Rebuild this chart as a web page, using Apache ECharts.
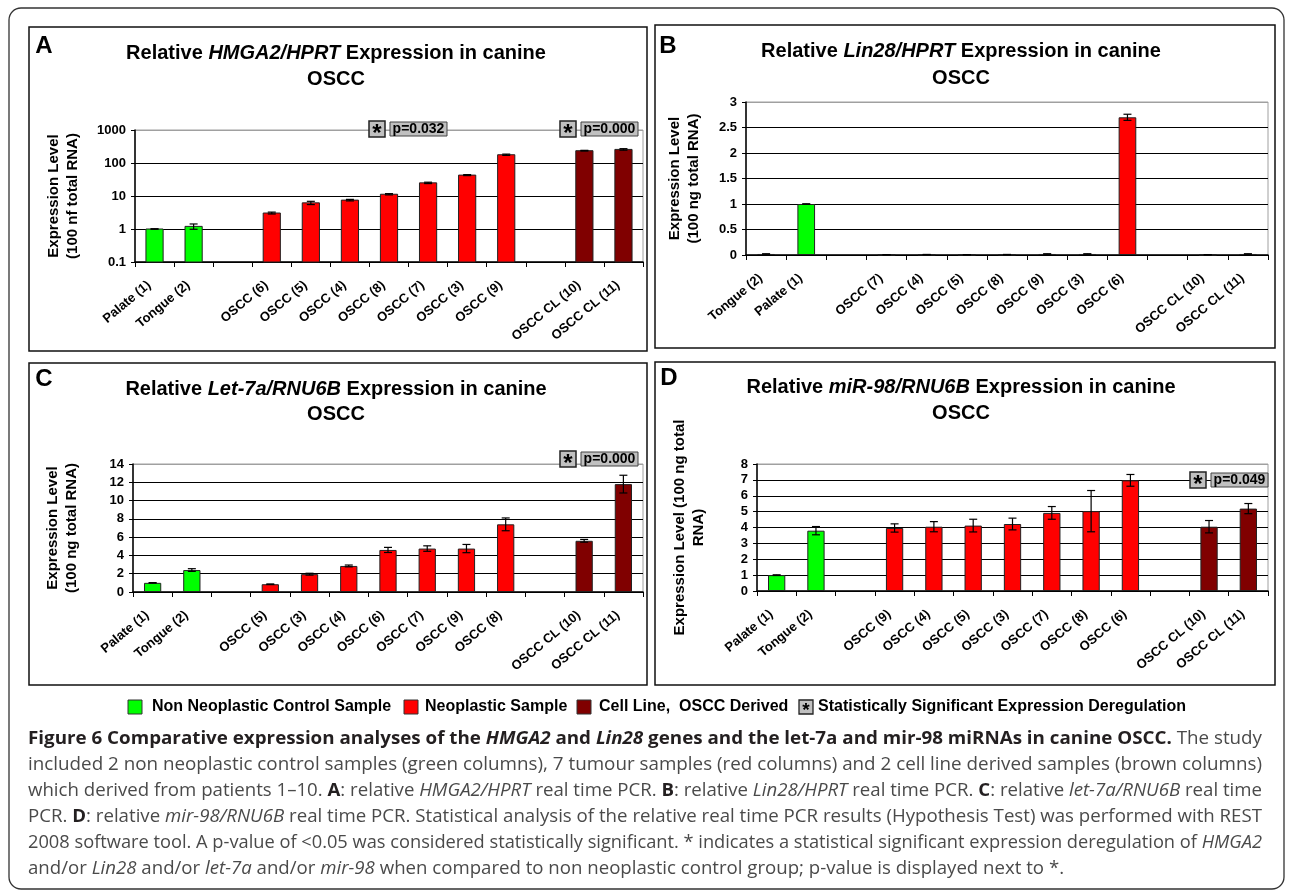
<!DOCTYPE html>
<html><head><meta charset="utf-8">
<script src="https://cdn.jsdelivr.net/npm/echarts@6/dist/echarts.min.js"></script>
<style>html,body{margin:0;padding:0;background:#fff}#c{width:1290px;height:895px}</style>
</head><body><div id="c"></div>
<script>
// ---------- DATA ----------
const catsA = ['Palate (1)','Tongue (2)',' ','OSCC (6)','OSCC (5)','OSCC (4)','OSCC (8)','OSCC (7)','OSCC (3)','OSCC (9)','  ','OSCC CL (10)','OSCC CL (11)'];
const valsA = [1.0,1.2,null,3.05,6.2,7.5,11.3,25,43,178,null,236,258];
const errA  = [0.02,0.22,null,0.2,0.7,0.4,0.5,1.2,1.5,8,null,6,14];
const ticksA = ['0.1','1','10','100','1000'];

const catsB = ['Tongue (2)','Palate (1)',' ','OSCC (7)','OSCC (4)','OSCC (5)','OSCC (8)','OSCC (9)','OSCC (3)','OSCC (6)','  ','OSCC CL (10)','OSCC CL (11)'];
const valsB = [0.02,1.0,null,0.004,0.008,0.004,0.008,0.02,0.02,2.7,null,0.004,0.02];
const errB  = [0.003,0.004,null,0.003,0.003,0.003,0.003,0.003,0.003,0.06,null,0.003,0.003];
const ticksB = ['0','0.5','1','1.5','2','2.5','3'];

const catsC = ['Palate (1)','Tongue (2)',' ','OSCC (5)','OSCC (3)','OSCC (4)','OSCC (6)','OSCC (7)','OSCC (9)','OSCC (8)','  ','OSCC CL (10)','OSCC CL (11)'];
const valsC = [1.0,2.4,null,0.85,1.95,2.85,4.6,4.75,4.75,7.4,null,5.6,11.8];
const errC  = [0.03,0.15,null,0.03,0.1,0.1,0.28,0.3,0.45,0.7,null,0.15,0.97];
const ticksC = ['0','2','4','6','8','10','12','14'];

const catsD = ['Palate (1)','Tongue (2)',' ','OSCC (9)','OSCC (4)','OSCC (5)','OSCC (3)','OSCC (7)','OSCC (8)','OSCC (6)','  ','OSCC CL (10)','OSCC CL (11)'];
const valsD = [1.0,3.8,null,3.97,4.05,4.12,4.22,4.92,5.03,6.97,null,4.05,5.19];
const errD  = [0.02,0.26,null,0.26,0.32,0.4,0.37,0.4,1.3,0.37,null,0.39,0.32];
const ticksD = ['0','1','2','3','4','5','6','7','8'];

const titlesItalic = ['HMGA2/HPRT','Lin28/HPRT','Let-7a/RNU6B','miR-98/RNU6B'];
const panelLetters = ['A','B','C','D'];
const yNames = ['Expression Level\n(100 nf total RNA)','Expression Level\n(100 ng total RNA)','Expression Level\n(100 ng total RNA)','Expression Level (100 ng total\nRNA)'];
const legendLabels = ['Non Neoplastic Control Sample','Neoplastic Sample','Cell Line,  OSCC Derived','Statistically Significant Expression Deregulation'];

// ---------- STYLE ----------
const FONT = '"Liberation Sans", Arial, sans-serif';
const GREEN = '#00ff00', RED = '#ff0000', BROWN = '#800000';
function colorFor(name){
  if (name.trim() === '') return null;
  if (name.indexOf('OSCC CL') === 0) return BROWN;
  if (name.indexOf('OSCC') === 0) return RED;
  return GREEN;
}

const panels = [
  {cats:catsA, vals:valsA, errs:errA, ticks:ticksA, log:true, min:0.1, max:1000,
   grid:{left:135, top:130, width:508, height:132}, nameGap:53,
   box:[29,27,618,324], letter:[44,46], title:[336,53,79]},
  {cats:catsB, vals:valsB, errs:errB, ticks:ticksB, log:false, min:0, max:3, interval:0.5,
   grid:{left:746, top:102, width:522, height:153}, nameGap:43,
   box:[655,25,620,323], letter:[668,46], title:[961,51,78]},
  {cats:catsC, vals:valsC, errs:errC, ticks:ticksC, log:false, min:0, max:14, interval:2,
   grid:{left:133, top:464, width:510, height:128}, nameGap:52,
   box:[29,363,618,322], letter:[44,379], title:[336,389,414]},
  {cats:catsD, vals:valsD, errs:errD, ticks:ticksD, log:false, min:0, max:8, interval:1,
   grid:{left:757, top:464, width:511, height:127}, nameGap:49,
   box:[655,362,620,323], letter:[669,378], title:[961,387,413]}
];

const grids = [], xAxes = [], yAxes = [], series = [];
panels.forEach((p, k) => {
  grids.push(Object.assign({show:true, borderColor:'#a0a0a0', borderWidth:1, backgroundColor:'transparent', containLabel:false}, p.grid));
  xAxes.push({type:'category', gridIndex:k, data:p.cats, boundaryGap:true,
    axisLine:{show:true, onZero:false, lineStyle:{color:'#000', width:1.5}},
    axisTick:{show:true, interval:0, length:5, lineStyle:{color:'#000', width:1}},
    axisLabel:{interval:0, rotate:40, margin:17, padding:[0,7,0,0], fontSize:13, fontWeight:'bold', fontFamily:FONT, color:'#000'},
    splitLine:{show:false}});
  const n = p.ticks.length;
  const ya = {type:p.log ? 'log' : 'value', gridIndex:k, min:p.min, max:p.max,
    name:yNames[k], nameLocation:'middle', nameRotate:90, nameGap:p.nameGap,
    nameTextStyle:{fontSize:15, fontWeight:'bold', fontFamily:FONT, color:'#000', lineHeight:19, align:'center'},
    axisLine:{show:true, lineStyle:{color:'#000', width:1.5}},
    axisTick:{show:true, length:4, lineStyle:{color:'#000', width:1}},
    axisLabel:{fontSize:13, fontWeight:'bold', fontFamily:FONT, color:'#000', margin:9,
      formatter:(v, idx) => p.ticks[idx]},
    splitLine:{show:true, lineStyle:{width:1, color:Array.from({length:n}, (_, i) => i === n - 1 ? '#a0a0a0' : '#000')}}};
  if (p.log) { ya.logBase = 10; ya.splitNumber = 4; } else { ya.interval = p.interval; }
  yAxes.push(ya);

  if (p.log) {
    series.push({type:'custom', xAxisIndex:k, yAxisIndex:k, z:2,
      data:p.vals.map((v, i) => v == null ? null : [i, v]).filter(d => d),
      encode:{x:0, y:1},
      renderItem:(params, api) => {
        const i = api.value(0), v = api.value(1);
        const top = api.coord([i, v]);
        const base = api.coord([i, p.min]);
        const w = api.size([1, 1])[0] * 0.44;
        return {type:'rect', shape:{x:top[0] - w / 2, y:top[1], width:w, height:base[1] - top[1]},
          style:{fill:colorFor(p.cats[i]), stroke:'#222', lineWidth:1}};
      }});
  } else {
    series.push({type:'bar', xAxisIndex:k, yAxisIndex:k, barWidth:'44%', z:2,
      itemStyle:{borderColor:'#222', borderWidth:1},
      data:p.vals.map((v, i) => v == null ? '-' : {value:v, itemStyle:{color:colorFor(p.cats[i])}})});
  }
  // error bars
  series.push({type:'custom', xAxisIndex:k, yAxisIndex:k, z:4,
    data:p.vals.map((v, i) => v == null ? null : [i, v, p.errs[i]]).filter(d => d),
    encode:{x:0, y:1},
    renderItem:(params, api) => {
      const i = api.value(0), v = api.value(1), e = api.value(2);
      const hi = api.coord([i, v + e]);
      const lo = api.coord([i, Math.max(v - e, p.min)]);
      const c = 4, st = {stroke:'#000', lineWidth:1.2};
      return {type:'group', children:[
        {type:'line', shape:{x1:hi[0], y1:hi[1], x2:lo[0], y2:lo[1]}, style:st},
        {type:'line', shape:{x1:hi[0] - c, y1:hi[1], x2:hi[0] + c, y2:hi[1]}, style:st},
        {type:'line', shape:{x1:lo[0] - c, y1:lo[1], x2:lo[0] + c, y2:lo[1]}, style:st}
      ]};
    }});
});

// ---------- GRAPHIC (frames, titles, annotations, legend, caption) ----------
const g = [];
g.push({type:'rect', shape:{x:9, y:8, width:1275, height:881, r:12}, style:{fill:'none', stroke:'#333', lineWidth:1.3}, z:1});
panels.forEach((p, k) => {
  const b = p.box;
  g.push({type:'rect', shape:{x:b[0], y:b[1], width:b[2], height:b[3]}, style:{fill:'none', stroke:'#111', lineWidth:1.5}, z:1});
  g.push({type:'text', x:p.letter[0], y:p.letter[1], style:{text:panelLetters[k], fontSize:24, fontWeight:'bold', fontFamily:FONT, fill:'#000', align:'center', verticalAlign:'middle'}, z:5});
  g.push({type:'text', x:p.title[0], y:p.title[1], style:{text:'Relative {i|' + titlesItalic[k] + '} Expression in canine',
    fontSize:20, fontWeight:'bold', fontFamily:FONT, fill:'#000', align:'center', verticalAlign:'middle',
    rich:{i:{fontSize:20, fontWeight:'bold', fontStyle:'italic', fontFamily:FONT, fill:'#000'}}}, z:5});
  g.push({type:'text', x:p.title[0], y:p.title[2], style:{text:'OSCC', fontSize:20, fontWeight:'bold', fontFamily:FONT, fill:'#000', align:'center', verticalAlign:'middle'}, z:5});
});

function sig(x, yc, ptxt){
  g.push({type:'rect', shape:{x:x, y:yc - 8, width:16, height:16}, style:{fill:'#c0c0c0', stroke:'#222', lineWidth:1.5}, z:20});
  g.push({type:'text', x:x + 8, y:yc + 5, style:{text:'*', fontSize:24, fontWeight:'bold', fontFamily:FONT, fill:'#000', align:'center', verticalAlign:'middle'}, z:21});
  if (ptxt) {
    g.push({type:'rect', shape:{x:x + 21, y:yc - 7, width:57, height:14}, style:{fill:'#c0c0c0', stroke:'#444', lineWidth:1}, z:20});
    g.push({type:'text', x:x + 49.5, y:yc, style:{text:ptxt, fontSize:14, fontWeight:'bold', fontFamily:FONT, fill:'#000', align:'center', verticalAlign:'middle'}, z:21});
  }
}
sig(369, 129, 'p=0.032');
sig(560, 129, 'p=0.000');
sig(560, 459, 'p=0.000');
sig(1190, 480, 'p=0.049');

// legend
const LY = 707;
const legendSw = [[128, GREEN, 152],[404, RED, 425],[577, BROWN, 599]];
legendSw.forEach((s, i) => {
  g.push({type:'rect', shape:{x:s[0], y:LY - 7, width:14, height:14}, style:{fill:s[1], stroke:'#333', lineWidth:1}, z:5});
  g.push({type:'text', x:s[2], y:LY, style:{text:legendLabels[i], fontSize:16, fontWeight:'bold', fontFamily:FONT, fill:'#000', align:'left', verticalAlign:'middle'}, z:5});
});
g.push({type:'rect', shape:{x:799, y:LY - 7, width:14, height:14}, style:{fill:'#c0c0c0', stroke:'#222', lineWidth:1.3}, z:5});
g.push({type:'text', x:806, y:LY + 4, style:{text:'*', fontSize:19, fontWeight:'bold', fontFamily:FONT, fill:'#000', align:'center', verticalAlign:'middle'}, z:6});
g.push({type:'text', x:818, y:LY, style:{text:legendLabels[3], fontSize:16, fontWeight:'bold', fontFamily:FONT, fill:'#000', align:'left', verticalAlign:'middle'}, z:5});

// caption
const CAP_FAMILY = '"Open Sans", sans-serif';
const CAP_SIZE = 17.5;
const DARK = '#231f20', BODY = '#4a4a4a';
const capStyles = {
  t:{fontWeight:'bold', fontStyle:'normal', fill:DARK},
  ti:{fontWeight:'bold', fontStyle:'italic', fill:DARK},
  r:{fontWeight:'normal', fontStyle:'normal', fill:BODY},
  i:{fontWeight:'normal', fontStyle:'italic', fill:BODY},
  b:{fontWeight:'bold', fontStyle:'normal', fill:DARK}
};
const captionLines = [
  [['t','Figure 6 Comparative expression analyses of the '],['ti','HMGA2'],['t',' and '],['ti','Lin28'],['t',' genes and the let-7a and mir-98 miRNAs in canine OSCC.'],['r',' The study']],
  [['r','included 2 non neoplastic control samples (green columns), 7 tumour samples (red columns) and 2 cell line derived samples (brown columns)']],
  [['r','which derived from patients 1\u201310. '],['b','A'],['r',': relative '],['i','HMGA2/HPRT'],['r',' real time PCR. '],['b','B'],['r',': relative '],['i','Lin28/HPRT'],['r',' real time PCR. '],['b','C'],['r',': relative '],['i','let-7a/RNU6B'],['r',' real time']],
  [['r','PCR. '],['b','D'],['r',': relative '],['i','mir-98/RNU6B'],['r',' real time PCR. Statistical analysis of the relative real time PCR results (Hypothesis Test) was performed with REST']],
  [['r','2008 software tool. A p-value of <0.05 was considered statistically significant. * indicates a statistical significant expression deregulation of '],['i','HMGA2']],
  [['r','and/or '],['i','Lin28'],['r',' and/or '],['i','let-7a'],['r',' and/or '],['i','mir-98'],['r',' when compared to non neoplastic control group; p-value is displayed next to *.']]
];
const mctx = document.createElement('canvas').getContext('2d');
const rich = {};
Object.keys(capStyles).forEach(k => { rich[k] = Object.assign({fontSize:CAP_SIZE, fontFamily:CAP_FAMILY}, capStyles[k]); });
const CAP_X = 28, CAP_W = 1234, CAP_Y0 = 739, CAP_DY = 26;
const scales = [];
captionLines.forEach((segs, li) => {
  let w = 0;
  segs.forEach(([k, t]) => { const st = capStyles[k]; mctx.font = st.fontStyle + ' ' + st.fontWeight + ' ' + CAP_SIZE + 'px ' + CAP_FAMILY; w += mctx.measureText(t).width; });
  let s = CAP_W / w;
  if (li === captionLines.length - 1) s = scales.reduce((a, b) => a + b, 0) / scales.length; else scales.push(s);
  g.push({type:'text', x:CAP_X, y:CAP_Y0 + CAP_DY * li, scaleX:s,
    style:{text:segs.map(([k, t]) => '{' + k + '|' + t + '}').join(''), rich:rich, fontSize:CAP_SIZE, fontFamily:CAP_FAMILY, fill:BODY, align:'left', verticalAlign:'middle'}, z:5});
});

const chart = echarts.init(document.getElementById('c'), null, {renderer:'canvas'});
chart.setOption({animation:false, backgroundColor:'#fff', grid:grids, xAxis:xAxes, yAxis:yAxes, series:series, graphic:{elements:g}});
</script></body></html>
